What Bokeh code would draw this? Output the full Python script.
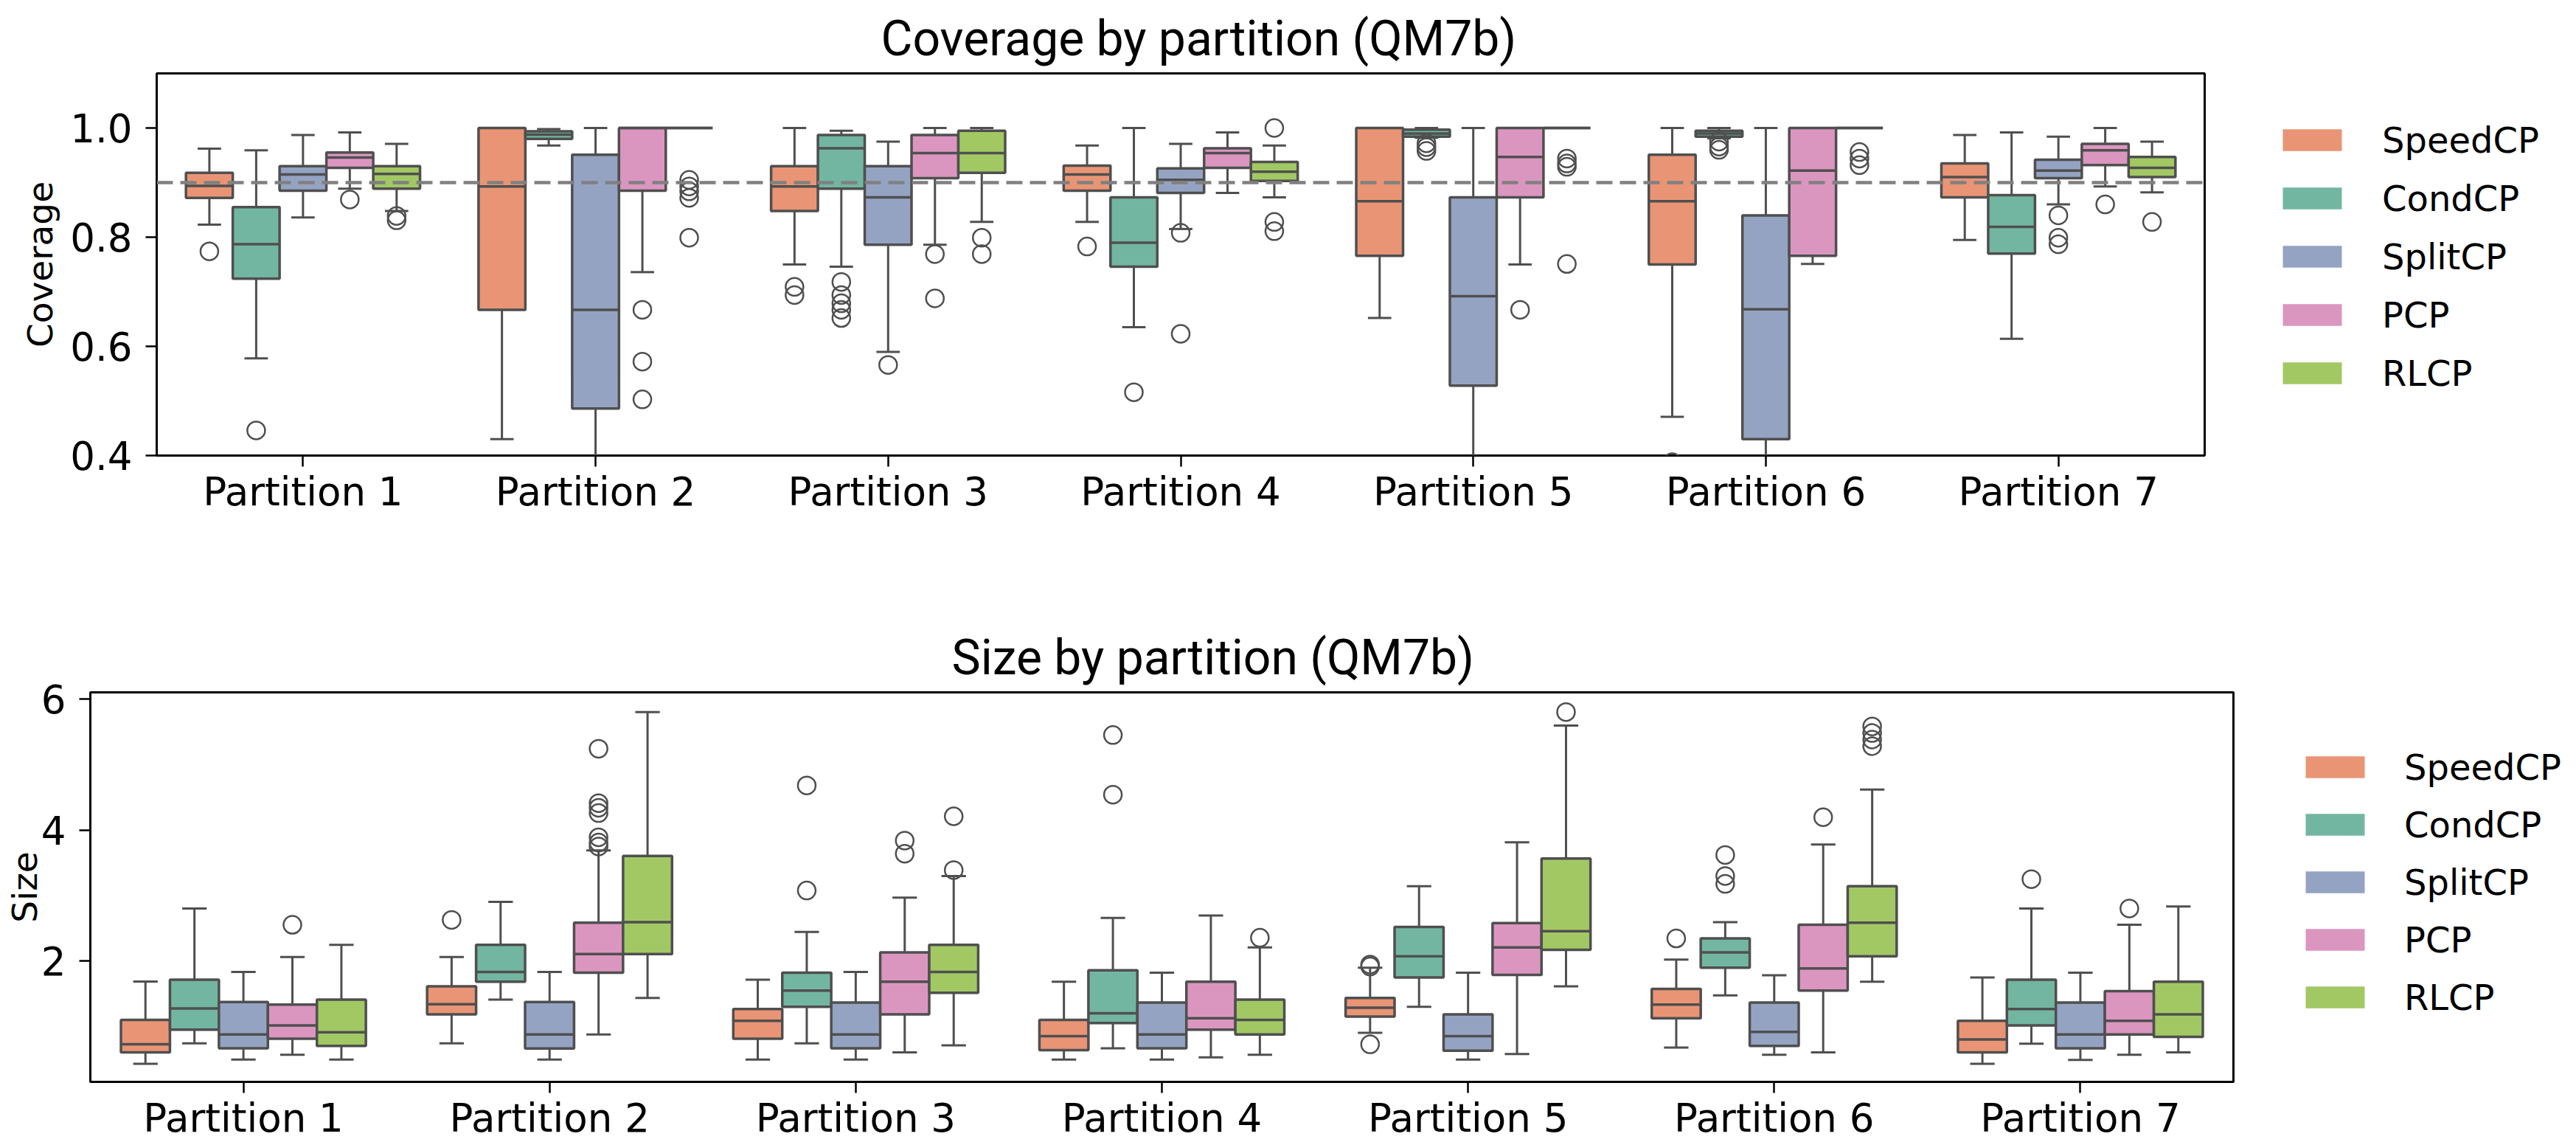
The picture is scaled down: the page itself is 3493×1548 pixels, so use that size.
from bokeh.plotting import figure
from bokeh.layouts import column, row
from bokeh.models import (ColumnDataSource, FactorRange, Range1d, FixedTicker, Span,
                          Legend, LegendItem, PrintfTickFormatter)
from bokeh.transform import dodge
from bokeh.embed import file_html
from bokeh.resources import INLINE

# ---------------- data ----------------
partitions = ["Partition 1", "Partition 2", "Partition 3", "Partition 4",
              "Partition 5", "Partition 6", "Partition 7"]
methods = ["SpeedCP", "CondCP", "SplitCP", "PCP", "RLCP"]
colors = ["#e99575", "#72b6a1", "#95a3c3", "#db96c0", "#a2c864"]

# Coverage by partition
cov_lo = {
    "SpeedCP": [0.823, 0.430, 0.750, 0.828, 0.652, 0.471, 0.795],
    "CondCP":  [0.578, 0.968, 0.746, 0.635, 0.982, 0.981, 0.614],
    "SplitCP": [0.836, 0.300, 0.590, 0.815, 0.300, 0.300, 0.860],
    "PCP":     [0.889, 0.736, 0.786, 0.881, 0.750, 0.751, 0.893],
    "RLCP":    [0.848, 1.000, 0.828, 0.873, 1.000, 1.000, 0.882],
}
cov_q1 = {
    "SpeedCP": [0.872, 0.667, 0.848, 0.885, 0.766, 0.750, 0.873],
    "CondCP":  [0.724, 0.980, 0.889, 0.746, 0.984, 0.984, 0.770],
    "SplitCP": [0.885, 0.486, 0.786, 0.881, 0.528, 0.430, 0.908],
    "PCP":     [0.927, 0.885, 0.908, 0.927, 0.873, 0.766, 0.932],
    "RLCP":    [0.889, 1.000, 0.918, 0.903, 1.000, 1.000, 0.910],
}
cov_med = {
    "SpeedCP": [0.894, 0.893, 0.893, 0.915, 0.866, 0.866, 0.910],
    "CondCP":  [0.787, 0.988, 0.963, 0.790, 0.990, 0.990, 0.819],
    "SplitCP": [0.915, 0.667, 0.873, 0.905, 0.692, 0.668, 0.922],
    "PCP":     [0.946, 1.000, 0.954, 0.954, 0.947, 0.922, 0.959],
    "RLCP":    [0.916, 1.000, 0.954, 0.920, 1.000, 1.000, 0.927],
}
cov_q3 = {
    "SpeedCP": [0.918, 1.000, 0.930, 0.931, 1.000, 0.951, 0.935],
    "CondCP":  [0.855, 0.994, 0.987, 0.873, 0.997, 0.995, 0.877],
    "SplitCP": [0.930, 0.951, 0.930, 0.926, 0.873, 0.840, 0.942],
    "PCP":     [0.955, 1.000, 0.987, 0.963, 1.000, 1.000, 0.971],
    "RLCP":    [0.930, 1.000, 0.995, 0.938, 1.000, 1.000, 0.947],
}
cov_hi = {
    "SpeedCP": [0.962, 1.000, 1.000, 0.968, 1.000, 1.000, 0.987],
    "CondCP":  [0.959, 0.998, 0.995, 1.000, 1.000, 1.000, 0.992],
    "SplitCP": [0.987, 1.000, 0.975, 0.971, 1.000, 1.000, 0.984],
    "PCP":     [0.992, 1.000, 1.000, 0.992, 1.000, 1.000, 1.000],
    "RLCP":    [0.971, 1.000, 1.000, 0.968, 1.000, 1.000, 0.975],
}
cov_out = {
    "SpeedCP": [[0.774], [], [0.709, 0.694], [0.783], [], [0.388], []],
    "CondCP":  [[0.446], [], [0.718, 0.694, 0.679, 0.667, 0.652], [0.516],
                [0.972, 0.965, 0.958], [0.975, 0.966, 0.960], []],
    "SplitCP": [[], [], [0.566], [0.808, 0.623], [], [], [0.840, 0.799, 0.787]],
    "PCP":     [[0.869], [0.667, 0.572, 0.503], [0.769, 0.688], [], [0.667], [], [0.860]],
    "RLCP":    [[0.839, 0.831], [0.905, 0.893, 0.884, 0.872, 0.799], [0.799, 0.769],
                [1.000, 0.828, 0.811], [0.944, 0.935, 0.929, 0.751],
                [0.956, 0.944, 0.932], [0.828]],
}
cov_target = 0.9

# Size by partition
size_lo = {
    "SpeedCP": [0.435, 0.748, 0.500, 0.500, 0.907, 0.683, 0.435],
    "CondCP":  [0.748, 1.414, 0.748, 0.673, 1.304, 1.478, 0.743],
    "SplitCP": [0.500, 0.500, 0.500, 0.500, 0.500, 0.574, 0.495],
    "PCP":     [0.574, 0.882, 0.609, 0.534, 0.584, 0.609, 0.574],
    "RLCP":    [0.500, 1.440, 0.718, 0.574, 1.617, 1.687, 0.609],
}
size_q1 = {
    "SpeedCP": [0.609, 1.190, 0.818, 0.643, 1.155, 1.130, 0.609],
    "CondCP":  [0.957, 1.687, 1.304, 1.056, 1.752, 1.900, 1.021],
    "SplitCP": [0.673, 0.668, 0.673, 0.673, 0.634, 0.708, 0.673],
    "PCP":     [0.818, 1.826, 1.190, 0.957, 1.791, 1.553, 0.882],
    "RLCP":    [0.708, 2.110, 1.518, 0.882, 2.174, 2.075, 0.847],
}
size_med = {
    "SpeedCP": [0.733, 1.344, 1.090, 0.857, 1.290, 1.339, 0.807],
    "CondCP":  [1.280, 1.836, 1.553, 1.205, 2.075, 2.134, 1.270],
    "SplitCP": [0.882, 0.882, 0.882, 0.882, 0.857, 0.922, 0.882],
    "PCP":     [1.021, 2.110, 1.687, 1.130, 2.209, 1.891, 1.090],
    "RLCP":    [0.917, 2.596, 1.836, 1.105, 2.457, 2.586, 1.190],
}
size_q3 = {
    "SpeedCP": [1.105, 1.617, 1.270, 1.105, 1.440, 1.578, 1.090],
    "CondCP":  [1.717, 2.250, 1.826, 1.861, 2.522, 2.348, 1.717],
    "SplitCP": [1.379, 1.379, 1.369, 1.369, 1.190, 1.369, 1.369],
    "PCP":     [1.339, 2.586, 2.134, 1.687, 2.581, 2.556, 1.543],
    "RLCP":    [1.414, 3.605, 2.250, 1.414, 3.565, 3.143, 1.687],
}
size_hi = {
    "SpeedCP": [1.690, 2.065, 1.717, 1.687, 1.900, 2.025, 1.752],
    "CondCP":  [2.805, 2.904, 2.447, 2.661, 3.143, 2.596, 2.805],
    "SplitCP": [1.836, 1.836, 1.836, 1.826, 1.826, 1.786, 1.826],
    "PCP":     [2.065, 3.690, 2.969, 2.696, 3.814, 3.779, 2.556],
    "RLCP":    [2.250, 5.800, 3.300, 2.209, 5.593, 4.619, 2.835],
}
size_out = {
    "SpeedCP": [[], [2.630], [], [], [1.950, 1.920, 0.733], [2.348], []],
    "CondCP":  [[], [], [4.680, 3.078], [5.450, 4.540], [], [3.620, 3.300, 3.180], [3.252]],
    "SplitCP": [[], [], [], [], [], [], []],
    "PCP":     [[2.556], [5.240, 4.410, 4.340, 4.260, 3.890, 3.810, 3.750],
                [3.840, 3.640], [], [], [4.196], [2.805]],
    "RLCP":    [[], [], [4.210, 3.390], [2.358], [5.800], [5.580, 5.480, 5.380, 5.280], []],
}

# ---------------- styling ----------------
LINE = "#4f4f4f"
TICK_FONT = "DejaVu Sans"
BOX_W = 0.16
OFFSETS = [-0.32, -0.16, 0.0, 0.16, 0.32]
TEXT_H = 55  # assumed legend label line height
PAGE_W = 3493


def make_chart(title, ylabel, yr, yticks, yfmt, lo, q1, med, q3, hi, out, height,
               frame_l, frame_r, frame_t, frame_b, title_left, label_standoff,
               target=None):
    p = figure(width=frame_r + 10, height=height, x_range=FactorRange(factors=partitions),
               y_range=Range1d(*yr), output_backend="svg", toolbar_location=None,
               tools="", min_border_left=frame_l, min_border_right=10,
               min_border_top=frame_t, min_border_bottom=height - frame_b)
    p.frame_align = False
    p.background_fill_color = "white"
    p.border_fill_color = "white"
    p.outline_line_color = "black"
    p.outline_line_width = 3
    p.xgrid.grid_line_color = None
    p.ygrid.grid_line_color = None

    p.title.text = title
    p.title.align = "left"
    p.title.offset = title_left - frame_l
    p.title.standoff = 18
    p.title.text_font = "Roboto"
    p.title.text_font_size = "66px"
    p.title.text_font_style = "normal"
    p.title.text_color = "black"

    for ax in (p.xaxis[0], p.yaxis[0]):
        ax.axis_line_color = None
        ax.major_tick_out = 15
        ax.major_tick_in = 0
        ax.major_tick_line_width = 2.5
        ax.major_tick_line_color = "black"
        ax.minor_tick_line_color = None
        ax.major_label_text_font = TICK_FONT
        ax.major_label_text_font_size = "53px"
        ax.major_label_text_color = "black"
    p.xaxis.major_label_standoff = 3
    p.yaxis.major_label_standoff = 18
    p.yaxis.ticker = FixedTicker(ticks=yticks)
    p.yaxis.formatter = PrintfTickFormatter(format=yfmt)
    p.yaxis.axis_label = ylabel
    p.yaxis.axis_label_text_font = TICK_FONT
    p.yaxis.axis_label_text_font_size = "47px"
    p.yaxis.axis_label_text_font_style = "normal"
    p.yaxis.axis_label_text_color = "black"
    p.yaxis.axis_label_standoff = label_standoff

    for m, c, off in zip(methods, colors, OFFSETS):
        src = ColumnDataSource(dict(part=partitions, lo=lo[m], q1=q1[m], med=med[m],
                                    q3=q3[m], hi=hi[m]))
        xc = dodge("part", off, range=p.x_range)
        xl = dodge("part", off - BOX_W / 4, range=p.x_range)
        xr = dodge("part", off + BOX_W / 4, range=p.x_range)
        xbl = dodge("part", off - BOX_W / 2, range=p.x_range)
        xbr = dodge("part", off + BOX_W / 2, range=p.x_range)
        # whiskers and caps
        p.segment(x0=xc, y0="q3", x1=xc, y1="hi", source=src, line_color=LINE, line_width=3)
        p.segment(x0=xc, y0="q1", x1=xc, y1="lo", source=src, line_color=LINE, line_width=3)
        p.segment(x0=xl, y0="hi", x1=xr, y1="hi", source=src, line_color=LINE, line_width=3)
        p.segment(x0=xl, y0="lo", x1=xr, y1="lo", source=src, line_color=LINE, line_width=3)
        # box
        p.vbar(x=xc, width=BOX_W, top="q3", bottom="q1", source=src,
               fill_color=c, line_color=LINE, line_width=3.5)
        # median
        p.segment(x0=xbl, y0="med", x1=xbr, y1="med", source=src, line_color=LINE,
                  line_width=3.5)
        # outliers
        op, ov = [], []
        for part, vals in zip(partitions, out[m]):
            for v in vals:
                op.append(part)
                ov.append(v)
        osrc = ColumnDataSource(dict(part=op, v=ov))
        p.scatter(x=xc, y="v", source=osrc, marker="circle", size=24, fill_color=None,
                  line_color=LINE, line_width=2.5)

    if target is not None:
        p.add_layout(Span(location=target, dimension="width", line_color="#808080",
                          line_width=4.5, line_dash="22 10"))
    return p


def make_legend(width, height, swatch_left, first_center, pitch, standoff):
    lg = figure(width=width, height=height, x_range=Range1d(0, 1), y_range=Range1d(0, 1),
                x_axis_type=None, y_axis_type=None, output_backend="svg",
                toolbar_location=None, tools="", min_border=0, title=None)
    lg.frame_align = False
    lg.outline_line_color = None
    lg.background_fill_color = "white"
    lg.border_fill_color = "white"
    lg.xgrid.grid_line_color = None
    lg.ygrid.grid_line_color = None
    items = []
    nan = float("nan")
    for m, c in zip(methods, colors):
        # placeholder renderer (draws nothing) that only provides the legend swatch
        r = lg.vbar(x=[nan], top=[nan], bottom=[nan], width=0.5, fill_color=c,
                    line_color=None)
        items.append(LegendItem(label=m, renderers=[r]))
    spacing = pitch - TEXT_H
    leg_h = 5 * TEXT_H + 4 * spacing
    top = first_center - TEXT_H / 2
    legend = Legend(items=items, location=(swatch_left, height - (top + leg_h)),
                    orientation="vertical", glyph_width=100, glyph_height=37,
                    label_height=37, label_standoff=standoff, spacing=spacing,
                    padding=0, margin=0, border_line_color=None,
                    background_fill_alpha=0, label_text_font=TICK_FONT,
                    label_text_font_size="48px", label_text_color="black")
    lg.add_layout(legend)
    return lg


# top chart: frame x 212..2989, y 99..617 within 780 px
H1 = 780
p1 = make_chart("Coverage by partition (QM7b)", "Coverage", (0.4, 1.1),
                [0.4, 0.6, 0.8, 1.0], "%.1f", cov_lo, cov_q1, cov_med, cov_q3, cov_hi,
                cov_out, H1, 212, 2989, 99, 617, 1194, 10, target=cov_target)
l1 = make_legend(PAGE_W - (2989 + 10), H1, 3085 - 2999, 194, 78, 45)

# bottom chart: frame x 122..3028, y 938..1469 (page) -> 158..689 within 768 px
H2 = 768
p2 = make_chart("Size by partition (QM7b)", "Size", (0.16, 6.10), [2, 4, 6], "%d",
                size_lo, size_q1, size_med, size_q3, size_hi, size_out,
                H2, 122, 3028, 938 - H1, 1469 - H1, 1290, -8)
l2 = make_legend(PAGE_W - (3028 + 10), H2, 3116 - 3038, 1044 - H1, 77, 44)

layout = column(row(p1, l1, spacing=0), row(p2, l2, spacing=0), spacing=0)
open("out.html", "w").write(file_html(layout, INLINE))
